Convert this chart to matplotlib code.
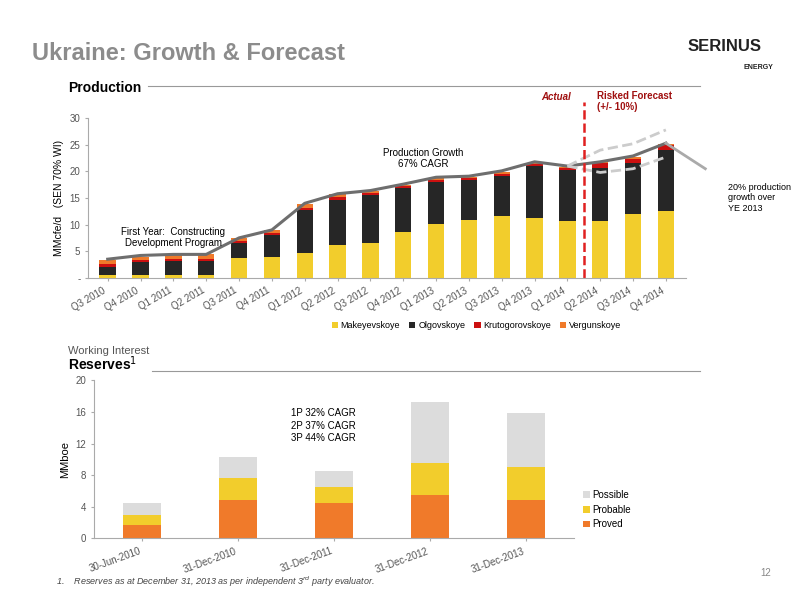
import matplotlib
matplotlib.use("Agg")
import matplotlib.pyplot as plt
import numpy as np

quarters = ["Q3 2010","Q4 2010","Q1 2011","Q2 2011","Q3 2011","Q4 2011","Q1 2012","Q2 2012","Q3 2012",
            "Q4 2012","Q1 2013","Q2 2013","Q3 2013","Q4 2013","Q1 2014","Q2 2014","Q3 2014","Q4 2014"]
makeyevskoye = [0.6,0.6,0.6,0.6,3.7,4.0,4.7,6.2,6.5,8.6,10.1,10.8,11.6,11.2,10.6,10.6,11.9,12.6]
olgovskoye = [1.4,2.3,2.5,2.5,2.8,4.0,8.1,8.5,9.0,8.2,7.9,7.6,7.6,9.8,9.6,10.0,9.7,11.4]
krutogorovskoye = [0.5,0.5,0.5,0.5,0.4,0.4,0.4,0.4,0.4,0.4,0.4,0.4,0.4,0.4,0.4,1.0,0.8,1.0]
vergunskoye = [0.9,0.6,0.7,0.8,0.5,0.5,0.6,0.6,0.4,0.3,0.3,0.2,0.3,0.1,0.2,0.1,0.3,0.1]
total_line = [3.5,4.2,4.4,4.4,7.5,9.0,14.0,15.8,16.4,17.6,18.9,19.1,20.1,21.8,21.0,21.8,22.9,25.3]
upper_idx = [14,15,16,17]
upper = [21.0,24.0,25.2,27.8]
lower = [21.0,19.8,20.5,22.7]

res_dates = ["30-Jun-2010","31-Dec-2010","31-Dec-2011","31-Dec-2012","31-Dec-2013"]
proved = [1.7,4.9,4.5,5.5,4.8]
probable = [1.3,2.7,2.0,4.0,4.2]
possible = [1.4,2.7,2.0,7.8,6.9]

YEL="#f2cd2c"; BLK="#262626"; RED="#cc1010"; ORG="#f07a2a"; GRY="#dcdcdc"
plt.rcParams['font.family'] = ['Liberation Sans','DejaVu Sans']

fig = plt.figure(figsize=(8,6), dpi=100)
fig.patch.set_facecolor("white")
fig.text(0.04, 0.9, "Ukraine: Growth & Forecast", fontsize=17, color="#8c8c8c", fontweight="bold")
fig.text(0.085, 0.847, "Production", fontsize=10, fontweight="bold")
fig.add_artist(plt.Line2D([0.185,0.875],[0.857,0.857], color="#999999", lw=0.8))
fig.text(0.86, 0.915, "SERINUS", fontsize=12, fontweight="bold", color="#222222")
fig.text(0.93, 0.885, "ENERGY", fontsize=5, fontweight="bold", color="#222222")

ax = fig.add_axes([0.11, 0.537, 0.747, 0.266])
x = np.arange(len(quarters))
w = 0.5
b = np.zeros(len(x))
for vals, c, lab in [(makeyevskoye,YEL,"Makeyevskoye"),(olgovskoye,BLK,"Olgovskoye"),
                     (krutogorovskoye,RED,"Krutogorovskoye"),(vergunskoye,ORG,"Vergunskoye")]:
    ax.bar(x, vals, w, bottom=b, color=c, label=lab)
    b += np.array(vals)
ax.plot(x, total_line, color="#6e6e6e", lw=2.2)
ax.plot([17, 18.2], [total_line[-1], 20.5], color="#aaaaaa", lw=2, clip_on=False)
ax.plot(upper_idx, upper, color="#cccccc", lw=2, ls="--")
ax.plot(upper_idx, lower, color="#cccccc", lw=2, ls="--")
ax.axvline(14.5, color="#e02020", lw=1.8, ls="--", ymin=0, ymax=1.1, clip_on=False)
ax.set_xlim(-0.6, 17.6)
ax.set_ylim(0, 30)
ax.set_yticks([0,5,10,15,20,25,30])
ax.set_yticklabels(["-","5","10","15","20","25","30"], fontsize=7, color="#555555")
ax.set_xticks(x)
ax.set_xticklabels(quarters, rotation=30, ha="right", fontsize=7, color="#555555")
for s in ["top","right"]:
    ax.spines[s].set_visible(False)
ax.spines["left"].set_color("#aaaaaa"); ax.spines["bottom"].set_color("#aaaaaa")
ax.tick_params(length=2, colors="#aaaaaa", labelcolor="#555555")
ax.set_ylabel("MMcfe/d   (SEN 70% WI)", fontsize=7.5)
ax.text(2.0, 5.9, "First Year:  Constructing\nDevelopment Program", ha="center", fontsize=7)
ax.text(9.6, 20.8, "Production Growth\n67% CAGR", ha="center", fontsize=7)
ax.text(14.1, 33.5, "Actual", ha="right", fontsize=7, fontweight="bold", style="italic", color="#a01010")
ax.text(14.9, 31.5, "Risked Forecast\n(+/- 10%)", ha="left", fontsize=7, fontweight="bold", color="#a01010")
fig.text(0.91, 0.67, "20% production\ngrowth over\nYE 2013", fontsize=6.5, va="center")
ax.legend(loc="upper center", bbox_to_anchor=(0.65,-0.22), ncol=4, frameon=False, fontsize=6.5,
          handlelength=0.7, handletextpad=0.3, columnspacing=1.0)

fig.text(0.085, 0.41, "Working Interest", fontsize=8, color="#555555")
fig.text(0.085, 0.383, "Reserves$^1$", fontsize=10, fontweight="bold")
fig.add_artist(plt.Line2D([0.19,0.875],[0.382,0.382], color="#999999", lw=0.8))

ax2 = fig.add_axes([0.1175, 0.103, 0.6, 0.263])
xr = np.arange(len(res_dates))
ax2.bar(xr, proved, 0.4, color=ORG, label="Proved")
ax2.bar(xr, probable, 0.4, bottom=proved, color=YEL, label="Probable")
ax2.bar(xr, possible, 0.4, bottom=np.array(proved)+np.array(probable), color=GRY, label="Possible")
ax2.set_xlim(-0.5, 4.5)
ax2.set_ylim(0, 20)
ax2.set_yticks([0,4,8,12,16,20])
ax2.set_xticks(xr)
ax2.set_xticklabels(res_dates, rotation=20, ha="right", fontsize=7)
ax2.tick_params(labelsize=7, length=2, colors="#aaaaaa", labelcolor="#555555")
for s in ["top","right"]:
    ax2.spines[s].set_visible(False)
ax2.spines["left"].set_color("#aaaaaa"); ax2.spines["bottom"].set_color("#aaaaaa")
ax2.set_ylabel("MMboe", fontsize=8)
ax2.text(1.55, 12.3, "1P 32% CAGR\n2P 37% CAGR\n3P 44% CAGR", fontsize=7, linespacing=1.3)
h, l = ax2.get_legend_handles_labels()
ax2.legend(h[::-1], l[::-1], loc="lower left", bbox_to_anchor=(1.0, 0.0), frameon=False, fontsize=7,
           handlelength=0.7, handletextpad=0.3)
fig.text(0.07, 0.025, "1.    Reserves as at December 31, 2013 as per independent 3$^{rd}$ party evaluator.",
         fontsize=6.5, style="italic", color="#444444")
fig.text(0.95, 0.04, "12", fontsize=7, color="#888888")
fig.savefig("out.png", dpi=100)
